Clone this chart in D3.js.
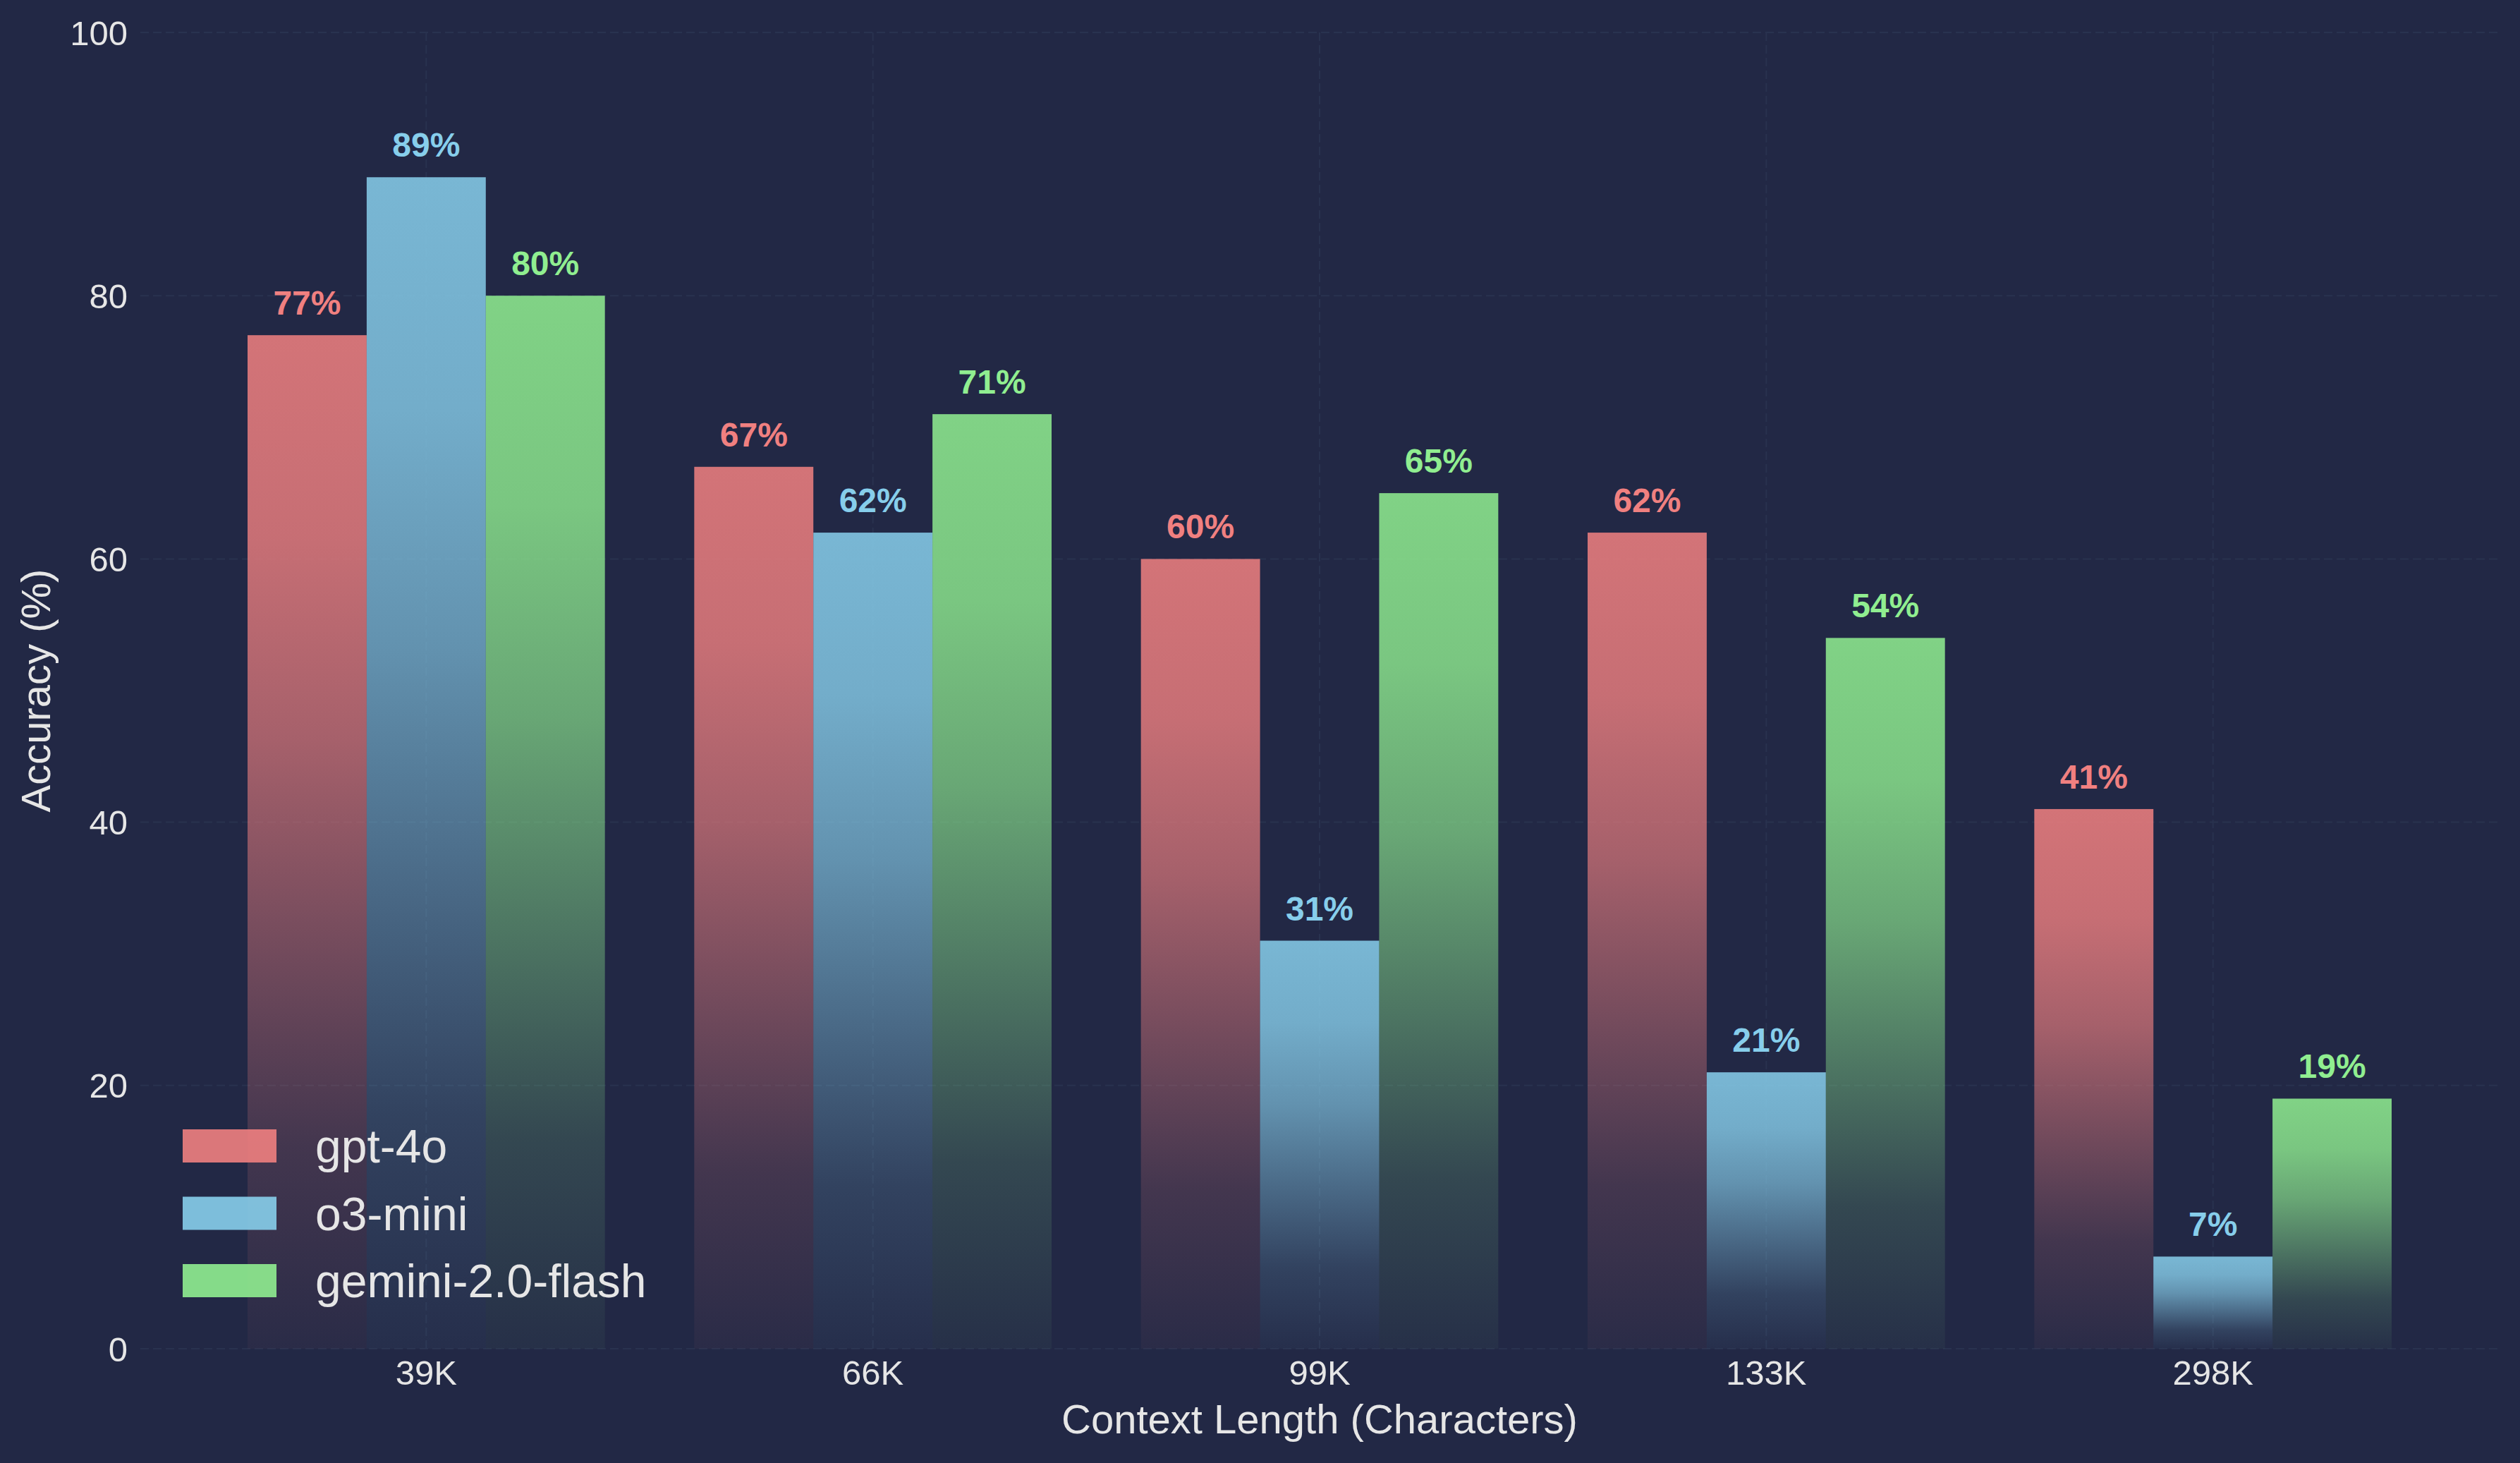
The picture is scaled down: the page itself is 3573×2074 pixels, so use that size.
<!DOCTYPE html>
<html>
<head>
<meta charset="utf-8">
<script src="https://cdn.jsdelivr.net/npm/d3@7"></script>
<style>
  html, body { margin: 0; padding: 0; background: #222845; }
  svg { display: block; }
</style>
</head>
<body>
<svg id="chart"></svg>
<script>
// Set up the SVG dimensions
const width = 3573;
const height = 2074;

const BG = "#222845";
const GRID = "#29324f";
const TEXT = "#e6e6e6";

// data
const categories = ["39K", "66K", "99K", "133K", "298K"];
const seriesNames = ["gpt-4o", "o3-mini", "gemini-2.0-flash"];
const gpt4o = [77, 67, 60, 62, 41];
const o3mini = [89, 62, 31, 21, 7];
const gemini = [80, 71, 65, 54, 19];
const seriesColors = ["#f08080", "#87ceeb", "#90ee90"];
const yTicks = [0, 20, 40, 60, 80, 100];

const seriesValues = [gpt4o, o3mini, gemini];

const svg = d3.select("#chart")
  .attr("width", width)
  .attr("height", height)
  .style("font-family", "'Liberation Sans', Arial, sans-serif");

svg.append("rect").attr("width", width).attr("height", height).attr("fill", BG);

// plot area
const plotLeft = 199, plotRight = 3543, plotTop = 46, plotBottom = 1912;

const x = d3.scaleBand()
  .domain(categories)
  .range([plotLeft, plotRight])
  .paddingInner(0.2)
  .paddingOuter(0.24);

const xs = d3.scaleBand()
  .domain(seriesNames)
  .range([0, x.bandwidth()]);

const y = d3.scaleLinear().domain([0, 100]).range([plotBottom, plotTop]);

// gradients, one per series (fade towards the bottom of each bar)
const defs = svg.append("defs");
const fade = [[0, 0.86], [0.2, 0.8], [0.4, 0.64], [0.6, 0.4], [0.8, 0.16], [1, 0.04]];
seriesNames.forEach((s, i) => {
  const g = defs.append("linearGradient")
    .attr("id", "grad" + i)
    .attr("x1", 0).attr("y1", 0).attr("x2", 0).attr("y2", 1);
  fade.forEach(([o, a]) => {
    g.append("stop")
      .attr("offset", o)
      .attr("stop-color", seriesColors[i])
      .attr("stop-opacity", a);
  });
});

// grid
const grid = svg.append("g")
  .attr("stroke", GRID)
  .attr("stroke-width", 2)
  .attr("stroke-dasharray", "12,6");

grid.selectAll("line.h")
  .data(yTicks)
  .enter().append("line")
  .attr("class", "h")
  .attr("x1", plotLeft).attr("x2", plotRight)
  .attr("y1", d => y(d)).attr("y2", d => y(d));

grid.selectAll("line.v")
  .data(categories)
  .enter().append("line")
  .attr("class", "v")
  .attr("x1", d => x(d) + x.bandwidth() / 2)
  .attr("x2", d => x(d) + x.bandwidth() / 2)
  .attr("y1", plotTop).attr("y2", plotBottom);

// bars
const rows = [];
categories.forEach((c, ci) => {
  seriesNames.forEach((s, si) => {
    rows.push({ cat: c, series: s, si: si, value: seriesValues[si][ci] });
  });
});

svg.append("g")
  .selectAll("rect")
  .data(rows)
  .enter().append("rect")
  .attr("x", d => x(d.cat) + xs(d.series))
  .attr("y", d => y(d.value))
  .attr("width", xs.bandwidth())
  .attr("height", d => y(0) - y(d.value))
  .attr("fill", d => "url(#grad" + d.si + ")");

// value labels
svg.append("g")
  .selectAll("text")
  .data(rows)
  .enter().append("text")
  .attr("x", d => x(d.cat) + xs(d.series) + xs.bandwidth() / 2)
  .attr("y", d => y(d.value) - 29)
  .attr("text-anchor", "middle")
  .attr("font-size", 48)
  .attr("font-weight", "bold")
  .attr("fill", d => seriesColors[d.si])
  .text(d => d.value + "%");

// axes
const xAxis = svg.append("g")
  .attr("transform", `translate(0,${plotBottom})`)
  .call(d3.axisBottom(x).tickSize(0));
xAxis.select(".domain").remove();
xAxis.selectAll("text")
  .attr("y", 51)
  .attr("dy", null)
  .attr("font-size", 49)
  .attr("font-family", "'Liberation Sans', Arial, sans-serif")
  .attr("fill", TEXT);

const yAxis = svg.append("g")
  .attr("transform", `translate(${plotLeft},0)`)
  .call(d3.axisLeft(y).tickValues(yTicks).tickSize(0).tickPadding(18));
yAxis.select(".domain").remove();
yAxis.selectAll("text")
  .attr("dy", "0.35em")
  .attr("font-size", 49)
  .attr("font-family", "'Liberation Sans', Arial, sans-serif")
  .attr("fill", TEXT);

// axis titles
svg.append("text")
  .attr("x", (plotLeft + plotRight) / 2)
  .attr("y", 2032)
  .attr("text-anchor", "middle")
  .attr("font-size", 58)
  .attr("fill", TEXT)
  .text("Context Length (Characters)");

svg.append("text")
  .attr("transform", `translate(71,${(plotTop + plotBottom) / 2}) rotate(-90)`)
  .attr("text-anchor", "middle")
  .attr("font-size", 58)
  .attr("fill", TEXT)
  .text("Accuracy (%)");

// legend
const legend = svg.append("g").attr("transform", "translate(259,1601)");
const item = legend.selectAll("g")
  .data(seriesNames)
  .enter().append("g")
  .attr("transform", (d, i) => `translate(0,${i * 95.5})`);
item.append("rect")
  .attr("width", 133)
  .attr("height", 47)
  .attr("fill", (d, i) => seriesColors[i])
  .attr("fill-opacity", 0.9);
item.append("text")
  .attr("x", 188)
  .attr("y", 47)
  .attr("font-size", 66)
  .attr("fill", TEXT)
  .text(d => d);
</script>
</body>
</html>
